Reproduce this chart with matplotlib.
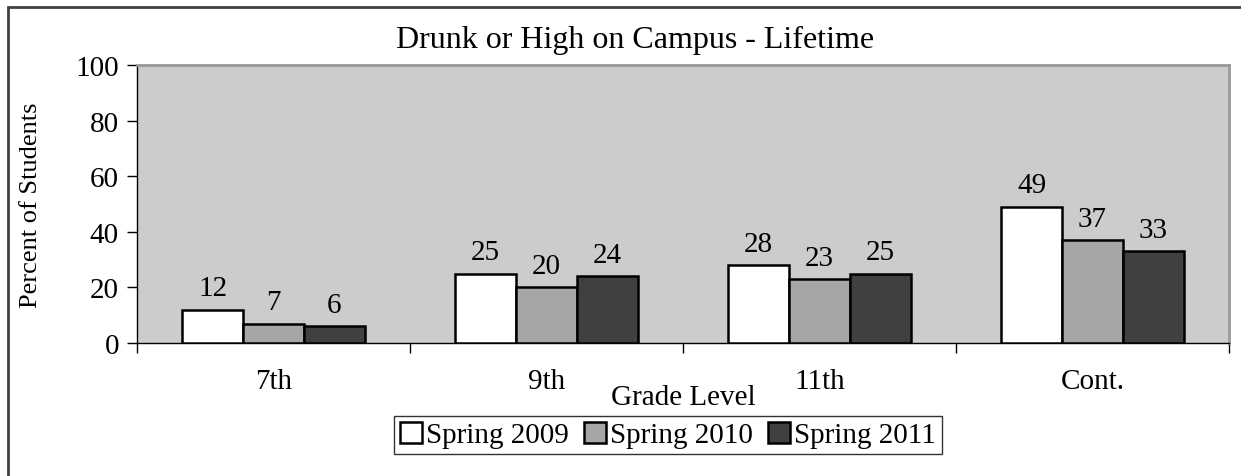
import numpy as np
import matplotlib.pyplot as plt
from matplotlib.patches import Rectangle

# chart data
grades = ['7th', '9th', '11th', 'Cont.']
spring_2009 = [12, 25, 28, 49]
spring_2010 = [7, 20, 23, 37]
spring_2011 = [6, 24, 25, 33]
series_names = ['Spring 2009', 'Spring 2010', 'Spring 2011']

plt.rcParams['font.family'] = ['Liberation Serif', 'DejaVu Serif']
FS = 21

fig = plt.figure(figsize=(12.41, 4.77), dpi=100)
W, H = 1241, 477
ax = fig.add_axes([137 / W, 1 - 344 / H, (1229 - 137) / W, (344 - 66) / H])

# outer chart frame (only top/left visible in the crop)
fig.patches.append(Rectangle((8 / W, -0.1), 1.2, 1 - 8 / H + 0.1, transform=fig.transFigure,
                             fill=False, edgecolor='#404040', linewidth=2))

x = np.arange(len(grades))
w = 0.223
colors = ['#FFFFFF', '#A6A6A6', '#404040']
for i, (vals, name) in enumerate(zip([spring_2009, spring_2010, spring_2011], series_names)):
    bars = ax.bar(x + (i - 1) * w, vals, w, color=colors[i], edgecolor='black',
                  linewidth=1.8, label=name, zorder=3)
    for b, v in zip(bars, vals):
        ax.text(b.get_x() + b.get_width() / 2, v + 3, str(v), ha='center', va='bottom',
                fontsize=FS)

ax.set_facecolor('#CCCCCC')
ax.set_xlim(-0.5, len(grades) - 0.5)
ax.set_ylim(0, 100)
ax.set_yticks(range(0, 101, 20))
ax.tick_params(axis='y', labelsize=FS, length=7, width=1, direction='out', pad=6)
ax.set_xticks(x)
ax.set_xticklabels(grades)
ax.set_xticks(np.arange(-0.5, len(grades), 1), minor=True)
ax.tick_params(axis='x', which='major', length=0, labelsize=FS, pad=18)
ax.tick_params(axis='x', which='minor', length=7, width=1, direction='out')
for s in ['top', 'right']:
    ax.spines[s].set_color('#999999')
    ax.spines[s].set_linewidth(2)
for s in ['left', 'bottom']:
    ax.spines[s].set_color('black')
    ax.spines[s].set_linewidth(1)

ax.set_xlabel('Grade Level', fontsize=FS, labelpad=-7)
ax.set_ylabel('Percent of Students', fontsize=19, labelpad=24)
fig.text(635 / W, 1 - 40 / H, 'Drunk or High on Campus - Lifetime', ha='center', va='center',
         fontsize=23)

leg = fig.legend(loc='center', bbox_to_anchor=(668 / W, 1 - 436 / H), ncol=3, fontsize=FS,
                 frameon=True, fancybox=False, edgecolor='black', handlelength=0.75,
                 handleheight=0.75, handletextpad=0.15, columnspacing=0.5, borderpad=0.2)
leg.get_frame().set_linewidth(1)

fig.savefig('out.png', dpi=100)
